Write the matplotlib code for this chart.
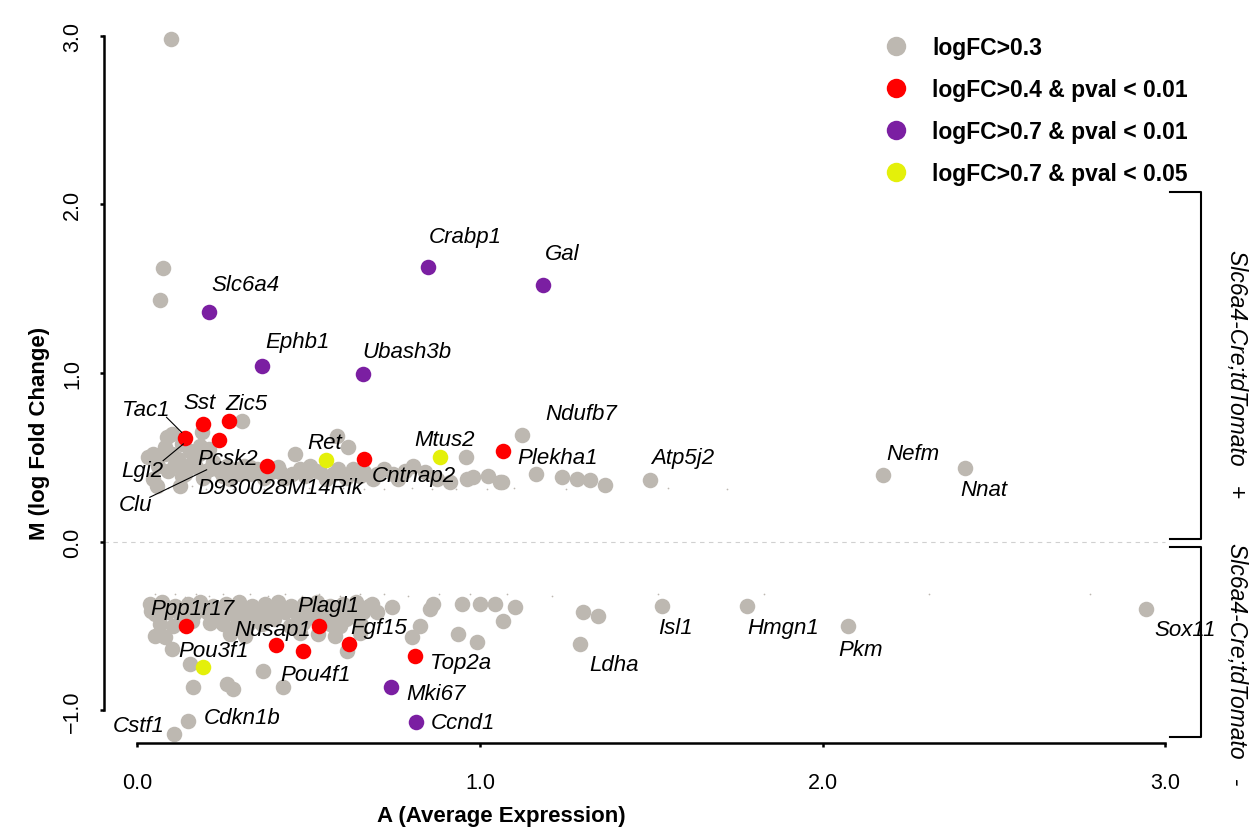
import matplotlib
matplotlib.use("Agg")
import matplotlib.pyplot as plt
from matplotlib.lines import Line2D

plt.rcParams['font.family'] = ['Liberation Sans', 'DejaVu Sans']

# ---- data ----
# grey: logFC > 0.3
gray_A = [0.098, 0.074, 0.066, 0.304, 0.187, 0.085, 0.100, 0.046, 0.080, 0.046,
          0.119, 0.153, 0.163, 0.183, 0.212, 0.129, 0.250, 0.290, 0.329, 0.416,
          0.474, 0.504, 0.533, 0.650, 0.688, 0.747, 0.804, 0.839, 0.873, 0.961,
          0.980, 1.024, 1.058, 0.912, 0.056, 0.124, 0.460, 0.583, 0.615, 0.586,
          0.958, 1.123, 1.162, 1.065, 1.238, 1.283, 1.322, 1.364, 1.496, 2.175,
          2.416, 0.060, 0.090, 0.110, 0.140, 0.170, 0.190, 0.220, 0.240, 0.270,
          0.300, 0.310, 0.350, 0.370, 0.390, 0.430, 0.450, 0.490, 0.550, 0.570,
          0.610, 0.700, 0.720, 0.760, 0.780, 0.080, 0.130, 0.180, 0.210,
          0.030, 0.100, 0.150, 0.200, 0.260, 0.330, 0.410, 0.520, 0.630, 0.660,
          # lower half
          0.107, 0.148, 0.161, 0.153, 0.100, 0.051, 0.080, 0.260, 0.280, 0.367,
          0.424, 0.611, 0.684, 0.742, 0.800, 0.825, 0.854, 0.863, 0.936, 0.946,
          0.990, 1.000, 1.044, 1.068, 1.102, 1.300, 1.344, 1.292, 1.531, 1.779,
          2.074, 2.944,
          0.036, 0.072, 0.109, 0.147, 0.183, 0.221, 0.258, 0.296, 0.334, 0.372,
          0.410, 0.448, 0.486, 0.524, 0.562, 0.600, 0.638, 0.676,
          0.051, 0.089, 0.127, 0.165, 0.203, 0.241, 0.279, 0.317, 0.355, 0.393,
          0.431, 0.468, 0.507, 0.545, 0.582, 0.620, 0.658,
          0.066, 0.104, 0.212, 0.250, 0.288, 0.326, 0.364, 0.445, 0.483, 0.562,
          0.591, 0.650, 0.270, 0.314, 0.474, 0.527, 0.577, 0.650,
          0.040, 0.120, 0.190, 0.270, 0.340, 0.420, 0.500, 0.570, 0.630, 0.160,
          0.230, 0.310, 0.400, 0.520, 0.610, 0.700]
gray_M = [2.98, 1.62, 1.43, 0.713, 0.648, 0.618, 0.638, 0.519, 0.519, 0.371,
          0.490, 0.539, 0.480, 0.568, 0.430, 0.391, 0.391, 0.430, 0.401, 0.411,
          0.430, 0.450, 0.411, 0.391, 0.371, 0.401, 0.450, 0.411, 0.371, 0.371,
          0.381, 0.387, 0.352, 0.352, 0.331, 0.331, 0.519, 0.628, 0.559, 0.430,
          0.503, 0.635, 0.401, 0.355, 0.385, 0.371, 0.365, 0.337, 0.367, 0.395,
          0.434, 0.450, 0.420, 0.460, 0.400, 0.440, 0.380, 0.470, 0.420, 0.370,
          0.400, 0.450, 0.430, 0.380, 0.410, 0.380, 0.400, 0.390, 0.370, 0.400,
          0.380, 0.400, 0.430, 0.370, 0.420, 0.560, 0.580, 0.520, 0.550,
          0.500, 0.520, 0.450, 0.420, 0.450, 0.440, 0.440, 0.420, 0.430, 0.410,
          -1.140, -1.062, -0.864, -0.726, -0.637, -0.561, -0.567, -0.844, -0.874, -0.765,
          -0.864, -0.647, -0.370, -0.389, -0.567, -0.499, -0.400, -0.370, -0.548, -0.370,
          -0.597, -0.370, -0.370, -0.469, -0.389, -0.417, -0.441, -0.607, -0.382, -0.382,
          -0.500, -0.400,
          -0.37, -0.36, -0.38, -0.37, -0.36, -0.38, -0.37, -0.36, -0.38, -0.37,
          -0.36, -0.38, -0.37, -0.36, -0.38, -0.37, -0.36, -0.38,
          -0.43, -0.42, -0.44, -0.43, -0.42, -0.44, -0.43, -0.42, -0.44, -0.43,
          -0.42, -0.44, -0.43, -0.42, -0.44, -0.43, -0.42,
          -0.49, -0.50, -0.48, -0.49, -0.50, -0.48, -0.49, -0.50, -0.48, -0.49,
          -0.50, -0.48, -0.55, -0.56, -0.54, -0.55, -0.56, -0.54,
          -0.41, -0.40, -0.40, -0.40, -0.41, -0.40, -0.40, -0.41, -0.40, -0.47,
          -0.46, -0.46, -0.46, -0.46, -0.46, -0.42]

# red: logFC > 0.4 & pval < 0.01
red_A = [0.139, 0.190, 0.268, 0.237, 0.377, 0.661, 1.068,
         0.142, 0.530, 0.404, 0.484, 0.618, 0.810]
red_M = [0.612, 0.697, 0.713, 0.600, 0.446, 0.490, 0.539,
         -0.499, -0.499, -0.613, -0.647, -0.607, -0.680]

# purple: logFC > 0.7 & pval < 0.01
purple_A = [0.848, 1.184, 0.209, 0.364, 0.659, 0.740, 0.812]
purple_M = [1.628, 1.521, 1.361, 1.041, 0.994, -0.864, -1.068]

# yellow: logFC > 0.7 & pval < 0.05
yellow_A = [0.549, 0.883, 0.192]
yellow_M = [0.484, 0.500, -0.745]

# non-significant genes (tiny dots)
small_A = [0.05, 0.09, 0.12, 0.16, 0.20, 0.24, 0.28, 0.33, 0.37, 0.41, 0.46, 0.50,
           0.55, 0.60, 0.66, 0.72, 0.80, 0.86, 0.93, 1.02, 1.10, 1.25, 1.38, 1.55, 1.72,
           0.05, 0.08, 0.11, 0.14, 0.17, 0.21, 0.25, 0.29, 0.33, 0.38, 0.43, 0.48,
           0.53, 0.59, 0.65, 0.72, 0.79, 0.88, 0.97, 1.08, 1.21, 1.52, 1.83, 2.31, 2.78]
small_M = [0.31, 0.32, 0.31, 0.33, 0.31, 0.32, 0.31, 0.32, 0.31, 0.32, 0.31, 0.32,
           0.31, 0.32, 0.31, 0.31, 0.32, 0.31, 0.31, 0.31, 0.32, 0.31, 0.31, 0.32, 0.31,
           -0.31, -0.32, -0.31, -0.33, -0.31, -0.32, -0.31, -0.32, -0.31, -0.32, -0.31, -0.32,
           -0.31, -0.32, -0.31, -0.31, -0.32, -0.31, -0.31, -0.31, -0.32, -0.31, -0.31, -0.31, -0.31]

genes = ['Crabp1', 'Gal', 'Slc6a4', 'Ephb1', 'Ubash3b', 'Ndufb7', 'Tac1', 'Sst', 'Zic5',
         'Ret', 'Mtus2', 'Plekha1', 'Atp5j2', 'Nefm', 'Nnat', 'Lgi2', 'Pcsk2',
         'D930028M14Rik', 'Cntnap2', 'Clu', 'Ppp1r17', 'Plagl1', 'Nusap1', 'Fgf15',
         'Pou3f1', 'Pou4f1', 'Top2a', 'Mki67', 'Cdkn1b', 'Ccnd1', 'Cstf1', 'Isl1',
         'Ldha', 'Hmgn1', 'Pkm', 'Sox11']
# label placement (A, M of the text centre)
label_pos = [(0.956, 1.806), (1.239, 1.711), (0.314, 1.527), (0.466, 1.189), (0.787, 1.130),
             (1.294, 0.762), (0.024, 0.786), (0.180, 0.822), (0.319, 0.816), (0.545, 0.589),
             (0.895, 0.608), (1.227, 0.500), (1.592, 0.500), (2.262, 0.525), (2.469, 0.312),
             (0.015, 0.420), (0.263, 0.490), (0.416, 0.322), (0.808, 0.391), (-0.005, 0.223),
             (0.160, -0.394), (0.557, -0.380), (0.394, -0.518), (0.705, -0.508), (0.221, -0.647),
             (0.521, -0.785), (0.943, -0.716), (0.871, -0.903), (0.306, -1.042), (0.951, -1.071),
             (0.005, -1.091), (1.569, -0.506), (1.391, -0.726), (1.884, -0.506), (2.112, -0.637),
             (3.057, -0.518)]
leaders = [((0.085, 0.737), (0.129, 0.648)),   # Tac1
           ((0.075, 0.480), (0.134, 0.579)),   # Lgi2
           ((0.036, 0.263), (0.202, 0.426))]   # Clu

c_gray = '#BDB8B1'
c_red = '#FF0000'
c_purple = '#7B1FA2'
c_yellow = '#E4F00A'

fig = plt.figure(figsize=(12.5, 8.29), dpi=100)
ax = fig.add_axes([0.0832, 0.1025, 0.8848, 0.8733])
ax.set_xlim(-0.0976, 3.1306)
ax.set_ylim(-1.1938, 3.0978)

ax.plot([-0.0976, 3.0], [0, 0], ls=(0, (4, 4)), color='#D0D0D0', lw=0.8, zorder=0)
ax.scatter(small_A, small_M, s=1.5, color=c_gray, linewidths=0, zorder=1)
ax.scatter(gray_A, gray_M, s=125, color=c_gray, linewidths=0, zorder=2)
ax.scatter(red_A, red_M, s=125, color=c_red, linewidths=0, zorder=3)
ax.scatter(purple_A, purple_M, s=125, color=c_purple, linewidths=0, zorder=3)
ax.scatter(yellow_A, yellow_M, s=125, color=c_yellow, linewidths=0, zorder=3)

for g, (x, y) in zip(genes, label_pos):
    ax.text(x, y, g, style='italic', fontsize=16, ha='center', va='center', zorder=4)
for (x0, y0), (x1, y1) in leaders:
    ax.plot([x0, x1], [y0, y1], color='black', lw=0.8, zorder=4)

# axes in R style
for s in ['top', 'right']:
    ax.spines[s].set_visible(False)
ax.spines['left'].set_bounds(-1, 3)
ax.spines['bottom'].set_bounds(0, 3)
for s in ['left', 'bottom']:
    ax.spines[s].set_linewidth(1.8)
ax.set_xticks([0, 1, 2, 3])
ax.set_xticklabels(['0.0', '1.0', '2.0', '3.0'])
ax.set_yticks([-1, 0, 1, 2, 3])
ax.set_yticklabels(['\u22121.0', '0.0', '1.0', '2.0', '3.0'], rotation=90, va='center')
ax.tick_params(axis='both', width=1.8, length=3, labelsize=15.5)
ax.tick_params(axis='x', pad=18)
ax.tick_params(axis='y', pad=12)

fig.text(501 / 1250, 1 - 817 / 829, 'A (Average Expression)', fontsize=16,
         fontweight='bold', ha='center', va='center')
fig.text(40 / 1250, 1 - 433 / 829, 'M (log Fold Change)', fontsize=16,
         fontweight='bold', ha='center', va='center', rotation=90)

# group brackets
ax.plot([3.014, 3.104, 3.104, 3.014], [2.07, 2.07, 0.015, 0.015], color='black',
        lw=1.5, clip_on=False)
ax.plot([3.014, 3.104, 3.104, 3.014], [-0.032, -0.032, -1.158, -1.158], color='black',
        lw=1.5, clip_on=False)
ax.text(3.207, 1.0, 'Slc6a4-Cre;tdTomato   +', style='italic', fontsize=16.5,
        rotation=270, ha='center', va='center', clip_on=False)
ax.text(3.207, -0.72, 'Slc6a4-Cre;tdTomato   -', style='italic', fontsize=16.5,
        rotation=270, ha='center', va='center', clip_on=False)

handles = [Line2D([], [], marker='o', ls='', markersize=14, color=c, markeredgewidth=0)
           for c in [c_gray, c_red, c_purple, c_yellow]]
labels = ['logFC>0.3', 'logFC>0.4 & pval < 0.01', 'logFC>0.7 & pval < 0.01',
          'logFC>0.7 & pval < 0.05']
ax.legend(handles, labels, loc='upper left', bbox_to_anchor=(885 / 1250, 1 - 37 / 829),
          bbox_transform=fig.transFigure, frameon=False,
          prop={'weight': 'bold', 'size': 16.5}, handlelength=1.0, handletextpad=1.05,
          labelspacing=0.83, borderpad=0, borderaxespad=0)

fig.savefig('out.png', dpi=100)
